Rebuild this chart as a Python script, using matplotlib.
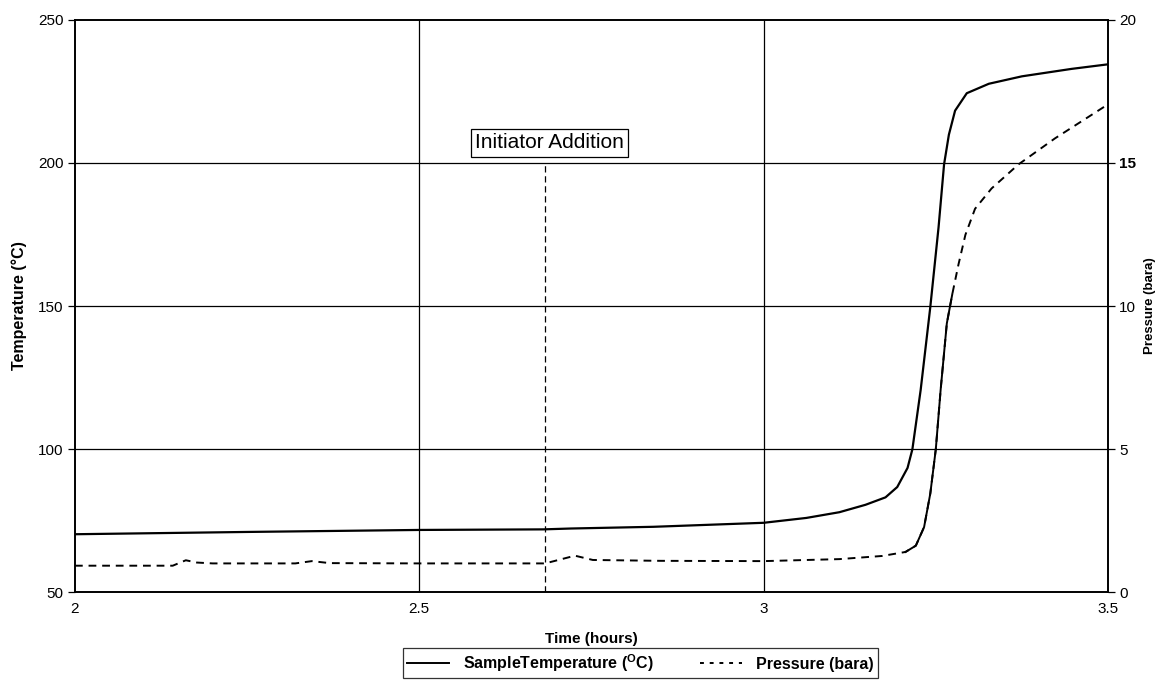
import matplotlib
matplotlib.use("Agg")
import matplotlib.pyplot as plt
from matplotlib.lines import Line2D

plt.rcParams['font.family'] = ['Liberation Sans', 'DejaVu Sans']
plt.rcParams['mathtext.fontset'] = 'custom'
plt.rcParams['mathtext.rm'] = 'Liberation Sans'
plt.rcParams['mathtext.bf'] = 'Liberation Sans:bold'

# sample temperature (degC) vs time (hours)
time_temp = [2.0, 2.25, 2.5, 2.68, 2.72, 2.84, 3.0, 3.062, 3.11, 3.148, 3.177,
             3.194, 3.209, 3.216, 3.228, 3.242, 3.254, 3.262, 3.269, 3.278,
             3.295, 3.327, 3.375, 3.447, 3.5]
temperature = [70.2, 71.0, 71.7, 71.9, 72.2, 72.8, 74.2, 75.9, 77.9, 80.5, 83.1,
               86.7, 93.4, 99.9, 120.6, 149.6, 177.5, 199.5, 209.9, 218.3,
               224.4, 227.7, 230.3, 232.9, 234.5]

# pressure (bara) vs time (hours)
time_pres = [2.0, 2.142, 2.161, 2.177, 2.2, 2.32, 2.344, 2.37, 2.5, 2.68, 2.686,
             2.726, 2.752, 2.85, 3.0, 3.11, 3.172, 3.206, 3.221, 3.233, 3.242,
             3.25, 3.257, 3.266, 3.274, 3.283, 3.293, 3.307, 3.331, 3.37, 3.423, 3.5]
pressure = [0.92, 0.92, 1.11, 1.03, 1.0, 1.0, 1.08, 1.01, 1.0, 1.0, 1.02,
            1.27, 1.12, 1.09, 1.08, 1.15, 1.26, 1.40, 1.62, 2.27, 3.44,
            4.99, 7.06, 9.39, 10.42, 11.46, 12.49, 13.40, 14.11, 14.95, 15.86, 17.05]

initiator_time = 2.682
x_ticks = [2, 2.5, 3, 3.5]
temp_ticks = [50, 100, 150, 200, 250]
pres_ticks = [0, 5, 10, 15, 20]

fig = plt.figure(figsize=(11.62, 6.8), dpi=100)
ax = fig.add_axes([0.0645, 0.1294, 0.889, 0.8412])
ax2 = ax.twinx()

ax.set_xlim(2, 3.5)
ax.set_ylim(50, 250)
ax2.set_ylim(0, 20)

# gridlines
for v in [100, 150, 200]:
    ax.axhline(v, color='black', lw=0.9, zorder=1)
for v in [2.5, 3.0]:
    ax.axvline(v, color='black', lw=0.9, zorder=1)

ax.plot(time_temp, temperature, color='black', lw=1.6, zorder=3)
ax2.plot(time_pres, pressure, color='black', lw=1.4, linestyle=(0, (4, 3)), zorder=3)
# steep part of the pressure trace shows as solid in the original
ax2.plot(time_pres[17:25], pressure[17:25], color='black', lw=1.4, zorder=3)

# initiator addition marker
ax.axvline(initiator_time, ymin=0, ymax=(200 - 50) / 200, color='black', lw=0.9,
           linestyle=(0, (5, 3)), zorder=2)
ax.text(initiator_time + 0.007, 207, 'Initiator Addition', ha='center', va='center',
        fontsize=15, bbox=dict(boxstyle='square,pad=0.2', fc='white', ec='black', lw=0.9))

ax.set_xticks(x_ticks)
ax.set_xticklabels(['2', '2.5', '3', '3.5'], fontsize=11)
ax.set_yticks(temp_ticks)
ax.set_yticklabels([str(t) for t in temp_ticks], fontsize=11)
ax2.set_yticks(pres_ticks)
ax2.set_yticklabels([str(p) for p in pres_ticks], fontsize=11)
ax2.get_yticklabels()[3].set_fontweight('bold')
ax.tick_params(axis='x', length=0, pad=7)
ax.tick_params(axis='y', length=5, width=0.9, pad=3)
ax2.tick_params(axis='y', length=5, width=0.9, pad=3)

for a in (ax, ax2):
    for s in a.spines.values():
        s.set_linewidth(1.2)

ax.set_xlabel('Time (hours)', fontsize=11, fontweight='bold', labelpad=12)
ax.set_ylabel('Temperature (°C)', fontsize=11.5, fontweight='bold', labelpad=8)
ax2.set_ylabel('Pressure (bara)', fontsize=9.5, fontweight='bold', labelpad=6)

handles = [Line2D([], [], color='black', lw=1.4),
           Line2D([], [], color='black', lw=1.4, linestyle=(0, (2, 3)))]
labels = [r'SampleTemperature ($^{\mathbf{O}}$C)', 'Pressure (bara)']
leg = fig.legend(handles, labels, loc='center', mode='expand',
                 bbox_to_anchor=(403 / 1162, 0.008, 475 / 1162, 0.034), ncol=2,
                 frameon=True, fancybox=False, edgecolor='black', handlelength=2.6,
                 handletextpad=0.9, columnspacing=0.9, borderpad=0.25, borderaxespad=0,
                 prop={'weight': 'bold', 'size': 11.5})
leg.get_frame().set_linewidth(0.9)

fig.savefig('out.png', dpi=100)
